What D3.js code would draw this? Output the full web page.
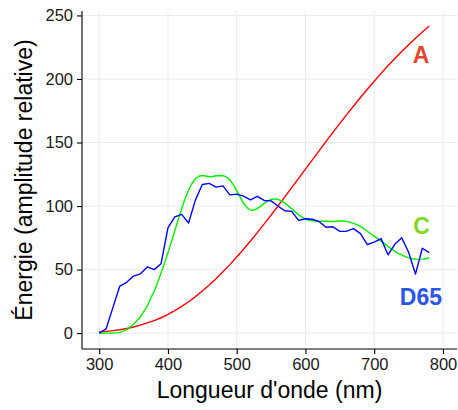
<!DOCTYPE html>
<html>
<head>
<meta charset="utf-8">
<script src="https://cdn.jsdelivr.net/npm/d3@7/dist/d3.min.js"></script>
<style>
  html, body { margin: 0; padding: 0; background: #fff; }
  svg { display: block; font-family: "Liberation Sans", Arial, Helvetica, sans-serif; }
</style>
</head>
<body>
<svg id="chart" width="458" height="410"></svg>
<script>
// ---- Data ----
const wavelengths10 = d3.range(300, 781, 10);
const illumA = [0.93,1.36,1.93,2.67,3.63,4.83,6.31,8.11,9.80,12.09,14.71,17.68,20.99,24.67,28.70,33.09,37.81,42.87,48.24,53.91,59.86,66.06,72.50,79.13,85.95,92.91,100.00,107.18,114.44,121.73,129.04,136.35,143.62,150.84,157.98,165.03,171.96,178.77,185.43,191.93,198.26,204.41,210.36,216.12,221.67,227.00,232.12,237.01,241.68];
const illumD65 = [0.03,3.29,20.24,37.05,39.95,44.91,46.64,52.09,49.98,54.65,82.75,91.49,93.43,86.68,104.86,117.01,117.81,114.86,115.92,108.81,109.35,107.80,104.79,107.69,104.41,104.05,100.00,96.33,95.79,88.69,90.01,89.60,87.70,83.29,83.70,80.03,80.21,82.28,78.28,69.72,71.61,74.35,61.60,69.89,75.09,63.59,46.42,66.81,63.38];
const wavelengths5 = d3.range(300, 781, 5);
const illumC = [0.00,0.00,0.00,0.00,0.01,0.20,0.40,1.55,2.70,4.85,7.00,9.95,12.90,17.20,21.40,27.50,33.00,39.92,47.40,55.17,63.30,71.81,80.60,89.53,98.10,105.80,112.40,117.75,121.50,123.45,124.00,123.60,123.10,123.30,123.80,124.09,123.90,122.92,120.70,116.90,112.10,106.98,102.30,98.81,96.90,96.78,98.00,99.94,102.10,103.95,105.20,105.67,105.30,104.11,102.30,100.15,97.80,95.43,93.20,91.22,89.70,88.83,88.40,88.19,88.10,88.06,88.00,87.86,87.80,87.99,88.20,88.20,87.90,87.22,86.30,85.30,84.00,82.21,80.20,78.24,76.30,74.36,72.40,70.40,68.30,66.30,64.40,62.80,61.50,60.20,59.20,58.50,58.10,58.00,58.20,58.50,59.10];
const xTicks = [300, 400, 500, 600, 700, 800];
const yTicks = [0, 50, 100, 150, 200, 250];
const labelNames = ["A", "C", "D65"];
const labelX = [768, 769, 768];
const labelY = [219, 84.5, 28.6];

// ---- Layout ----
const svg = d3.select("#chart");
const panel = { left: 82, right: 457, top: 11, bottom: 349 };
const x = d3.scaleLinear().domain([275, 820.4]).range([panel.left, panel.right]);
const y = d3.scaleLinear().domain([-12.5, 253.5]).range([panel.bottom, panel.top]);

// grid
const grid = svg.append("g");
grid.selectAll("line.v").data(xTicks).join("line")
  .attr("x1", d => x(d)).attr("x2", d => x(d))
  .attr("y1", panel.top).attr("y2", panel.bottom)
  .attr("stroke", "#ebebeb").attr("stroke-width", 1);
grid.selectAll("line.h").data(yTicks).join("line")
  .attr("y1", d => y(d)).attr("y2", d => y(d))
  .attr("x1", panel.left).attr("x2", panel.right)
  .attr("stroke", "#ebebeb").attr("stroke-width", 1);

// lines
const series = [
  { xs: wavelengths10, ys: illumA, color: "#ff0000" },
  { xs: wavelengths5, ys: illumC, color: "#00ee00" },
  { xs: wavelengths10, ys: illumD65, color: "#0000ff" }
];
const lineGen = d3.line().x(d => x(d[0])).y(d => y(d[1]));
const drawOrder = [0, 1, 2];
drawOrder.forEach(i => {
  const s = series[i];
  svg.append("path")
    .datum(s.xs.map((w, j) => [w, s.ys[j]]))
    .attr("fill", "none")
    .attr("stroke", s.color)
    .attr("stroke-width", 1.4)
    .attr("stroke-linejoin", "round")
    .attr("d", lineGen);
});

// axes
const xAxis = d3.axisBottom(x).tickValues(xTicks).tickSize(5).tickPadding(4).tickSizeOuter(0);
const yAxis = d3.axisLeft(y).tickValues(yTicks).tickSize(5).tickPadding(4).tickSizeOuter(0);
const gx = svg.append("g").attr("transform", `translate(0,${panel.bottom})`).call(xAxis);
const gy = svg.append("g").attr("transform", `translate(${panel.left},0)`).call(yAxis);
[gx, gy].forEach(g => {
  g.select(".domain").attr("stroke", "#000").attr("stroke-width", 1.1);
  g.selectAll(".tick line").attr("stroke", "#000").attr("stroke-width", 1.1);
  g.selectAll(".tick text").attr("fill", "#1a1a1a").style("font-size", "16.5px")
    .style("font-family", '"Liberation Sans", Arial, Helvetica, sans-serif');
});
gx.select(".domain").attr("d", `M${panel.left},0H${panel.right}`);
gy.select(".domain").attr("d", `M0,${panel.top}V${panel.bottom}`);

// labels
const labelColors = ["#e4432d", "#84d81e", "#2b55e6"];
labelNames.forEach((n, i) => {
  svg.append("text")
    .attr("x", x(labelX[i])).attr("y", y(labelY[i]))
    .attr("dy", "0.36em")
    .attr("text-anchor", "middle")
    .attr("fill", labelColors[i])
    .style("font-size", "23px").style("font-weight", "bold")
    .text(n);
});

// axis titles
svg.append("text")
  .attr("x", (panel.left + panel.right) / 2).attr("y", 398)
  .attr("text-anchor", "middle").attr("fill", "#000")
  .style("font-size", "23px")
  .text("Longueur d'onde (nm)");
svg.append("text")
  .attr("transform", `translate(32,${(panel.top + panel.bottom) / 2}) rotate(-90)`)
  .attr("text-anchor", "middle").attr("fill", "#000")
  .style("font-size", "23px")
  .text("Énergie (amplitude relative)");
</script>
</body>
</html>
